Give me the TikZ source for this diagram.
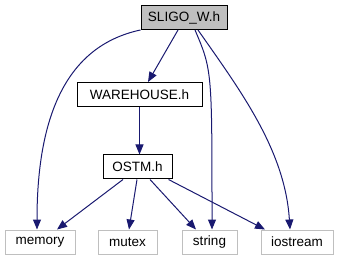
\documentclass[tikz,border=0pt]{standalone}
\usepackage{fontspec}
\setmainfont{Liberation Sans}
\usetikzlibrary{arrows.meta}
\definecolor{edgeblue}{HTML}{191970}
\definecolor{leafgray}{HTML}{BFBFBF}

\begin{document}
\begin{tikzpicture}[x=1pt,y=-1pt,
    file/.style={draw=black,line width=1pt,inner sep=0pt,minimum height=24pt,font=\fontsize{13.5}{16}\selectfont},
    sysfile/.style={file,draw=leafgray},
    dep/.style={draw=edgeblue,line width=1pt,-{Triangle[length=10pt,width=8pt]}}]
    \useasboundingbox (0,0) rectangle (339,261);
    \node[file,fill=leafgray,minimum width=86pt] (sligo) at (184,17.5) {SLIGO\_W.h};
    \node[file,minimum width=125pt] (warehouse) at (139.5,94.5) {WAREHOUSE.h};
    \node[file,minimum width=69pt] (ostm) at (137.5,167) {OSTM.h};
    \node[sysfile,minimum width=70pt] (memory) at (40,242) {memory};
    \node[sysfile,minimum width=59pt] (mutex) at (127.5,242) {mutex};
    \node[sysfile,minimum width=55pt] (string) at (209.5,242) {string};
    \node[sysfile,minimum width=72pt] (iostream) at (297,242) {iostream};
    \draw[dep] (sligo.south west) .. controls (70,45) and (37,110) .. ([xshift=-3pt]memory.north);
    \draw[dep] ([xshift=-6pt]sligo.south) -- ([xshift=8.5pt]warehouse.north);
    \draw[dep] ([xshift=11pt]sligo.south) .. controls (212,70) .. ([xshift=2.5pt]string.north);
    \draw[dep] ([xshift=14pt]sligo.south) .. controls (240,90) and (285,150) .. ([xshift=-7pt]iostream.north);
    \draw[dep] (warehouse.south) -- (warehouse.south |- ostm.north);
    \draw[dep] ([xshift=-14.5pt]ostm.south) -- ([xshift=17pt]memory.north);
    \draw[dep] ([xshift=-0.5pt]ostm.south) -- ([xshift=1.5pt]mutex.north);
    \draw[dep] ([xshift=12.5pt]ostm.south) -- ([xshift=-13.5pt]string.north);
    \draw[dep] ([xshift=-4pt]ostm.south east) -- ([xshift=-32pt]iostream.north);
\end{tikzpicture}
\end{document}
